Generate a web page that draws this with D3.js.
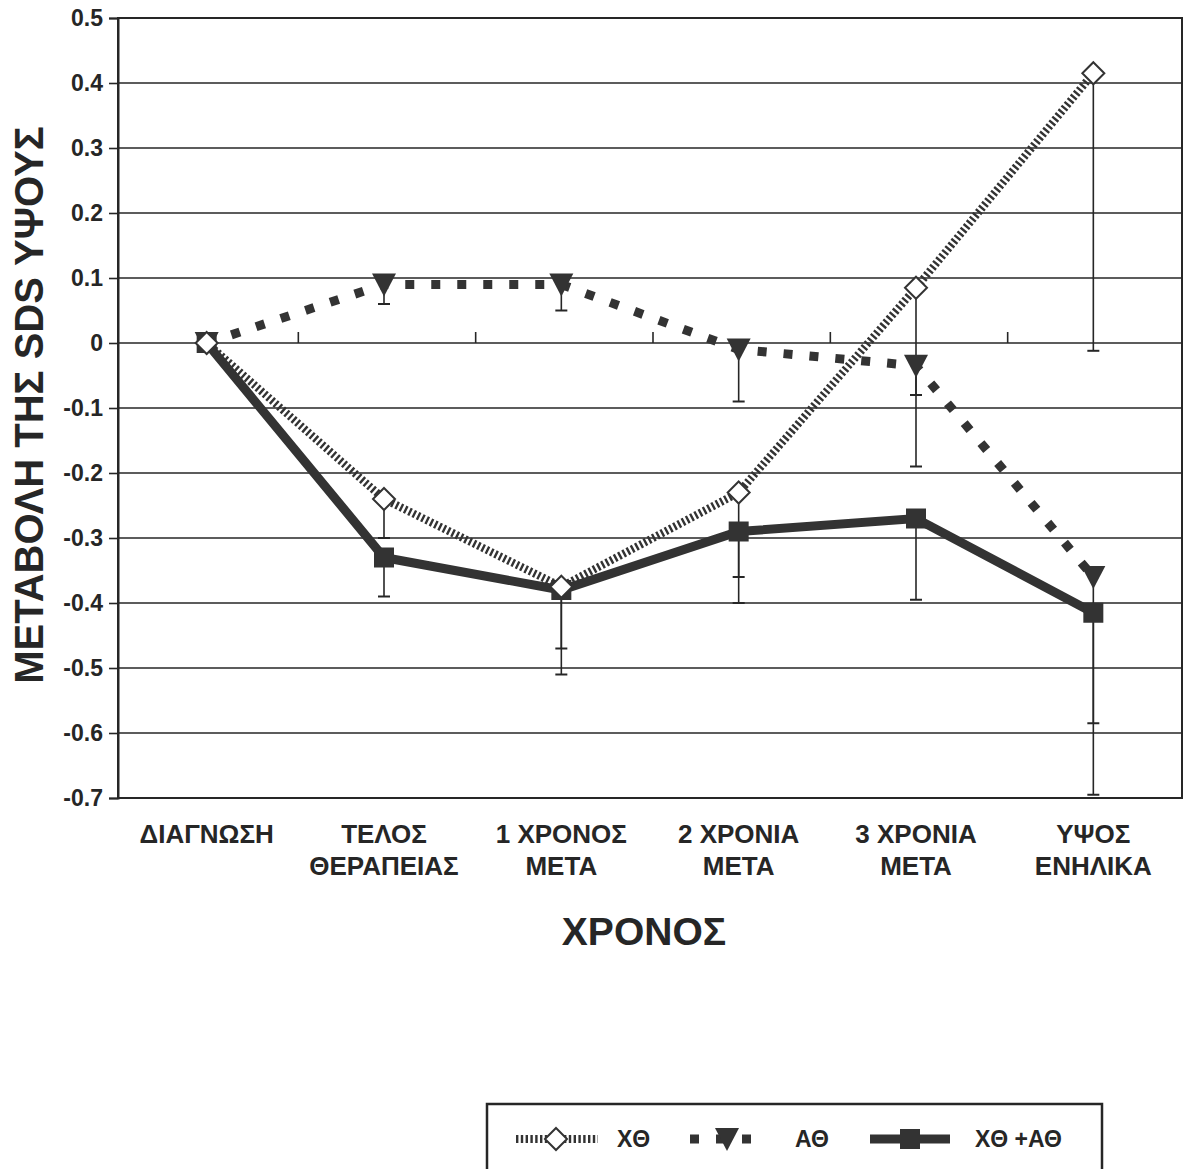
<!DOCTYPE html>
<html>
<head>
<meta charset="utf-8">
<script src="https://cdn.jsdelivr.net/npm/d3@7"></script>
<style>
  html, body { margin: 0; padding: 0; background: #fff; }
  svg { display: block; font-family: "Liberation Sans", Arial, sans-serif; }
</style>
</head>
<body>
<svg id="chart" width="1186" height="1169"></svg>
<script>
// Time points (two-line labels)
const categories = ["ΔΙΑΓΝΩΣΗ", "ΤΕΛΟΣ ΘΕΡΑΠΕΙΑΣ", "1 ΧΡΟΝΟΣ ΜΕΤΑ", "2 ΧΡΟΝΙΑ ΜΕΤΑ", "3 ΧΡΟΝΙΑ ΜΕΤΑ", "ΥΨΟΣ ΕΝΗΛΙΚΑ"];
const categoryLines = [["ΔΙΑΓΝΩΣΗ"], ["ΤΕΛΟΣ", "ΘΕΡΑΠΕΙΑΣ"], ["1 ΧΡΟΝΟΣ", "ΜΕΤΑ"], ["2 ΧΡΟΝΙΑ", "ΜΕΤΑ"], ["3 ΧΡΟΝΙΑ", "ΜΕΤΑ"], ["ΥΨΟΣ", "ΕΝΗΛΙΚΑ"]];

// Mean change of height SDS per group
const seriesXTh   = [0, -0.24, -0.375, -0.23, 0.085, 0.415];
const seriesATh   = [0, 0.09, 0.09, -0.01, -0.035, -0.36];
const seriesBoth  = [0, -0.33, -0.38, -0.29, -0.27, -0.415];

// Lower end of each error bar (null = no bar)
const lowXTh  = [null, -0.30, -0.47, -0.36, -0.08, -0.012];
const lowATh  = [null, 0.06, 0.05, -0.09, -0.19, -0.585];
const lowBoth = [null, -0.39, -0.51, -0.40, -0.395, -0.695];

const seriesNames = ["ΧΘ", "ΑΘ", "ΧΘ +ΑΘ"];
const yTicks = [0.5, 0.4, 0.3, 0.2, 0.1, 0, -0.1, -0.2, -0.3, -0.4, -0.5, -0.6, -0.7];
const yTickLabels = ["0.5", "0.4", "0.3", "0.2", "0.1", "0", "-0.1", "-0.2", "-0.3", "-0.4", "-0.5", "-0.6", "-0.7"];

const ink = "#262626";
const svg = d3.select("#chart");

const plotL = 118, plotR = 1182, plotT = 18, plotB = 798;
const x = d3.scaleBand().domain(categories).range([plotL, plotR]).padding(0);
const y = d3.scaleLinear().domain([-0.7, 0.5]).range([plotB, plotT]);
const cx = i => x(categories[i]) + x.bandwidth() / 2;

// Horizontal gridlines
svg.append("g").selectAll("line").data(yTicks).join("line")
  .attr("x1", plotL).attr("x2", plotR)
  .attr("y1", d => y(d)).attr("y2", d => y(d))
  .attr("stroke", ink).attr("stroke-width", 1.6);

// Frame
svg.append("rect").attr("x", plotL).attr("y", plotT)
  .attr("width", plotR - plotL).attr("height", plotB - plotT)
  .attr("fill", "none").attr("stroke", ink).attr("stroke-width", 2);

// Y axis
const yAxis = svg.append("g").attr("transform", `translate(${plotL},0)`)
  .call(d3.axisLeft(y).tickValues(yTicks).tickSize(9).tickPadding(6)
    .tickFormat((d, i) => yTickLabels[i]));
yAxis.select(".domain").attr("stroke", ink).attr("stroke-width", 2);
yAxis.selectAll(".tick line").attr("stroke", ink).attr("stroke-width", 1.6);
yAxis.selectAll(".tick text").attr("fill", ink)
  .style("font-size", "23px").style("font-weight", "bold")
  .style("font-family", "'Liberation Sans', Arial, sans-serif");

// Category boundary ticks on the zero line
svg.append("g").selectAll("line").data(categories.slice(1)).join("line")
  .attr("x1", d => x(d) + 3).attr("x2", d => x(d) + 3)
  .attr("y1", y(0)).attr("y2", y(0) - 11)
  .attr("stroke", ink).attr("stroke-width", 1.6);

// Category labels
const catG = svg.append("g");
categoryLines.forEach((lines, i) => {
  const t = catG.append("text").attr("x", cx(i)).attr("y", 843)
    .attr("text-anchor", "middle").attr("fill", ink)
    .style("font-size", "26px").style("font-weight", "bold");
  lines.forEach((ln, k) => t.append("tspan").attr("x", cx(i)).attr("dy", k === 0 ? 0 : 32).text(ln));
});

// Axis titles
svg.append("text").attr("x", 644).attr("y", 945).attr("text-anchor", "middle")
  .attr("fill", ink).style("font-size", "39px").style("font-weight", "bold").text("ΧΡΟΝΟΣ");
svg.append("text").attr("transform", "translate(43,405) rotate(-90)").attr("text-anchor", "middle")
  .attr("fill", ink).style("font-size", "40px").style("font-weight", "bold").text("ΜΕΤΑΒΟΛΗ ΤΗΣ SDS ΥΨΟΥΣ");

// Error bars
function errorBars(vals, lows) {
  const g = svg.append("g");
  vals.forEach((v, i) => {
    if (lows[i] === null) return;
    g.append("line").attr("x1", cx(i)).attr("x2", cx(i)).attr("y1", y(v)).attr("y2", y(lows[i]))
      .attr("stroke", ink).attr("stroke-width", 1.6);
    g.append("line").attr("x1", cx(i) - 6).attr("x2", cx(i) + 6).attr("y1", y(lows[i])).attr("y2", y(lows[i]))
      .attr("stroke", ink).attr("stroke-width", 2);
  });
}
errorBars(seriesBoth, lowBoth);
errorBars(seriesATh, lowATh);
errorBars(seriesXTh, lowXTh);

const line = d3.line().x((d, i) => cx(i)).y(d => y(d));

// Marker shapes
const sqPath = d3.symbol(d3.symbolSquare, 400)();
const triPath = "M-12,-11L12,-11L0,12Z";
const diaPath = "M0,-11L11,0L0,11L-11,0Z";

// ΧΘ + ΑΘ : thick solid line with squares
svg.append("path").datum(seriesBoth).attr("d", line)
  .attr("fill", "none").attr("stroke", "#333").attr("stroke-width", 9).attr("stroke-linejoin", "miter");
svg.append("g").selectAll("path").data(seriesBoth).join("path")
  .attr("d", sqPath).attr("transform", (d, i) => `translate(${cx(i)},${y(d)})`).attr("fill", "#333");

// ΑΘ : square dots with down triangles
svg.append("path").datum(seriesATh).attr("d", line)
  .attr("fill", "none").attr("stroke", "#333").attr("stroke-width", 9).attr("stroke-dasharray", "9,17");
svg.append("g").selectAll("path").data(seriesATh).join("path")
  .attr("d", triPath).attr("transform", (d, i) => `translate(${cx(i)},${y(d)})`).attr("fill", "#333");

// ΧΘ : hatched line with open diamonds
svg.append("path").datum(seriesXTh).attr("d", line)
  .attr("fill", "none").attr("stroke", "#333").attr("stroke-width", 8).attr("stroke-dasharray", "2.4,2.4");
svg.append("g").selectAll("path").data(seriesXTh).join("path")
  .attr("d", diaPath).attr("transform", (d, i) => `translate(${cx(i)},${y(d)})`)
  .attr("fill", "#fff").attr("stroke", "#333").attr("stroke-width", 2);

// Legend
const lg = svg.append("g");
lg.append("rect").attr("x", 487).attr("y", 1104).attr("width", 615).attr("height", 90)
  .attr("fill", "#fff").attr("stroke", ink).attr("stroke-width", 2.5);
const ly = 1139;
lg.append("line").attr("x1", 516).attr("x2", 598).attr("y1", ly).attr("y2", ly)
  .attr("stroke", "#333").attr("stroke-width", 8).attr("stroke-dasharray", "2.4,2.4");
lg.append("path").attr("d", diaPath).attr("transform", `translate(556,${ly})`)
  .attr("fill", "#fff").attr("stroke", "#333").attr("stroke-width", 2);
lg.append("line").attr("x1", 690).attr("x2", 754).attr("y1", ly).attr("y2", ly)
  .attr("stroke", "#333").attr("stroke-width", 9).attr("stroke-dasharray", "9,17");
lg.append("path").attr("d", triPath).attr("transform", `translate(727,${ly})`).attr("fill", "#333");
lg.append("line").attr("x1", 870).attr("x2", 950).attr("y1", ly).attr("y2", ly)
  .attr("stroke", "#333").attr("stroke-width", 9);
lg.append("path").attr("d", sqPath).attr("transform", `translate(910,${ly})`).attr("fill", "#333");
const legendText = [[617, seriesNames[0]], [795, seriesNames[1]], [975, seriesNames[2]]];
legendText.forEach(([tx, s]) => lg.append("text").attr("x", tx).attr("y", ly + 8)
  .attr("fill", ink).style("font-size", "23px").style("font-weight", "bold").text(s));
</script>
</body>
</html>
